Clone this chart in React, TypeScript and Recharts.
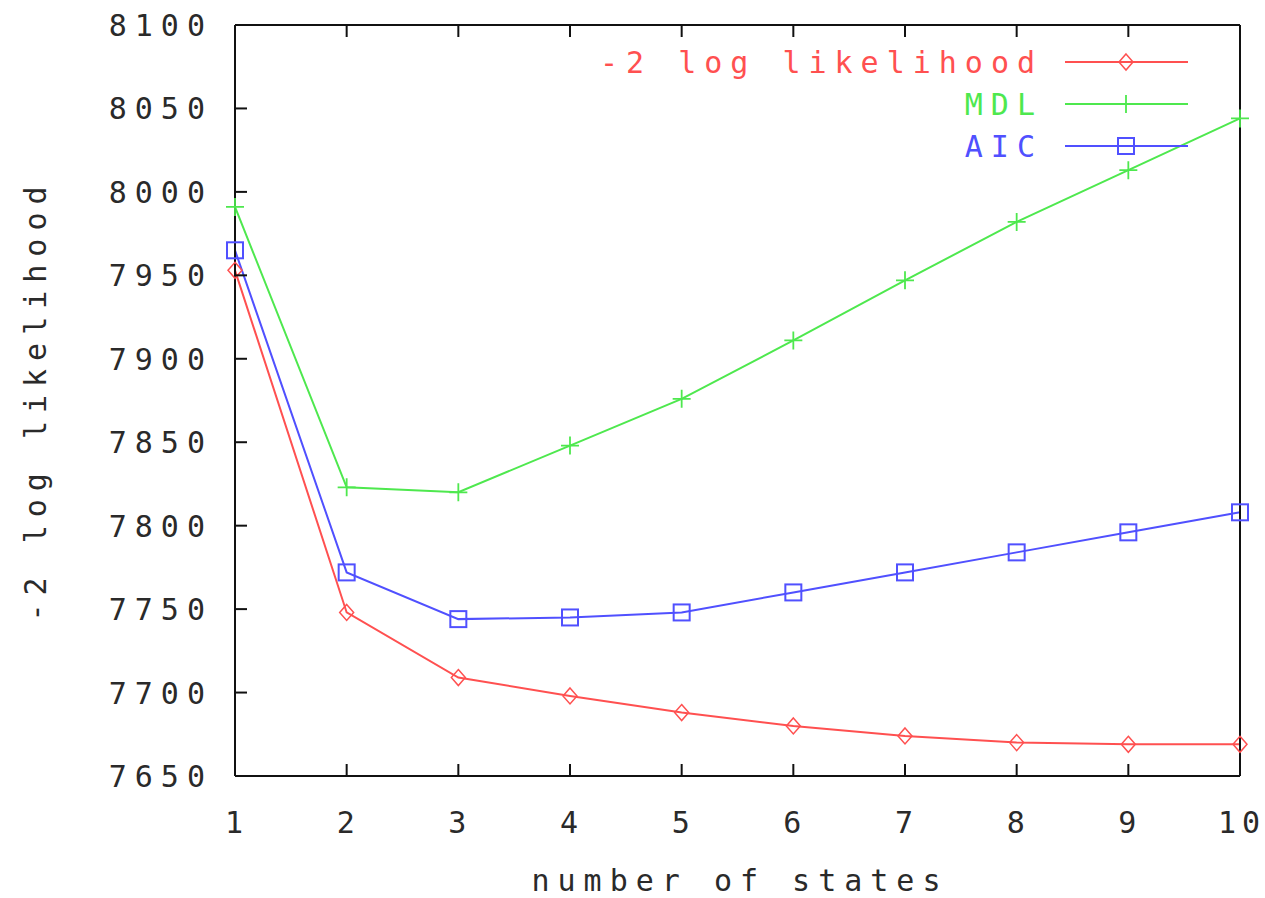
import { Legend, Label, Line, LineChart, XAxis, YAxis } from 'recharts';

const states = [1, 2, 3, 4, 5, 6, 7, 8, 9, 10];
const logLikelihood = [7953, 7748, 7709, 7698, 7688, 7680, 7674, 7670, 7669, 7669];
const mdlValues = [7991, 7823, 7820, 7848, 7876, 7911, 7947, 7982, 8013, 8044];
const aicValues = [7965, 7772, 7744, 7745, 7748, 7760, 7772, 7784, 7796, 7808];
const yTicks = [7650, 7700, 7750, 7800, 7850, 7900, 7950, 8000, 8050, 8100];

const RED = '#ff5050';
const GREEN = '#4ee84e';
const BLUE = '#5050ff';
const FONT = '"DejaVu Sans Mono", monospace';
const TEXT_STYLE = { fontFamily: FONT, fontSize: 30, letterSpacing: 8 } as const;
const XTICK_STYLE = { fontFamily: FONT, fontSize: 30, letterSpacing: 6 } as const;

const data = states.map((n, i) => ({ n, ll: logLikelihood[i], mdl: mdlValues[i], aic: aicValues[i] }));

const LeftTick = ({ x, y, payload }: any) => (
  <g>
    <line x1={x} x2={x + 12} y1={y} y2={y} stroke="#111" strokeWidth={2} />
    <text x={x - 22} y={y + 11} textAnchor="end" fill="#2a2a2a" style={TEXT_STYLE}>
      {payload.value}
    </text>
  </g>
);

const RightTick = ({ x, y }: any) => <line x1={x} x2={x - 12} y1={y} y2={y} stroke="#111" strokeWidth={2} />;

const BottomTick = ({ x, y, payload }: any) => (
  <g>
    <line x1={x} x2={x} y1={y} y2={y - 12} stroke="#111" strokeWidth={2} />
    <text x={x + 2} y={y + 57} textAnchor="middle" fill="#2a2a2a" style={XTICK_STYLE}>
      {payload.value}
    </text>
  </g>
);

const TopTick = ({ x, y }: any) => <line x1={x} x2={x} y1={y} y2={y + 12} stroke="#111" strokeWidth={2} />;

const diamond = (cx: number, cy: number) => `M${cx},${cy - 8} L${cx + 7},${cy} L${cx},${cy + 8} L${cx - 7},${cy} Z`;

const DiamondDot = (props: any) => (
  <path key={`ll-${props.index}`} d={diamond(props.cx, props.cy)} fill="none" stroke={RED} strokeWidth={1.5} />
);

const PlusDot = (props: any) => (
  <path
    key={`mdl-${props.index}`}
    d={`M${props.cx - 9},${props.cy} H${props.cx + 9} M${props.cx},${props.cy - 9} V${props.cy + 9}`}
    stroke={GREEN}
    strokeWidth={1.8}
  />
);

const SquareDot = (props: any) => (
  <rect
    key={`aic-${props.index}`}
    x={props.cx - 8}
    y={props.cy - 8}
    width={16}
    height={16}
    fill="none"
    stroke={BLUE}
    strokeWidth={2}
  />
);

const legendRows = [
  { label: '-2 log likelihood', color: RED, marker: 'diamond' },
  { label: 'MDL', color: GREEN, marker: 'plus' },
  { label: 'AIC', color: BLUE, marker: 'square' },
];

const renderLegend = () => (
  <svg width={640} height={130}>
    {legendRows.map((row, i) => {
      const cy = 22 + i * 42;
      return (
        <g key={row.label}>
          <text x={483} y={cy + 11} textAnchor="end" fill={row.color} style={TEXT_STYLE}>
            {row.label}
          </text>
          <line x1={505} x2={628} y1={cy} y2={cy} stroke={row.color} strokeWidth={2} />
          {row.marker === 'diamond' && <path d={diamond(566, cy)} fill="none" stroke={row.color} strokeWidth={1.5} />}
          {row.marker === 'plus' && (
            <path d={`M557,${cy} H575 M566,${cy - 9} V${cy + 9}`} stroke={row.color} strokeWidth={1.8} />
          )}
          {row.marker === 'square' && (
            <rect x={558} y={cy - 8} width={16} height={16} fill="none" stroke={row.color} strokeWidth={2} />
          )}
        </g>
      );
    })}
  </svg>
);

export default function App() {
  return (
    <div style={{ position: 'absolute', left: 0, top: 0, width: 1265, height: 898, background: '#fff' }}>
      <LineChart width={1265} height={898} data={data} margin={{ top: 0, right: 0, bottom: 0, left: 0 }}>
        <XAxis
          xAxisId="bottom"
          dataKey="n"
          type="number"
          domain={[1, 10]}
          ticks={states}
          interval={0}
          height={122}
          tickSize={0}
          tickMargin={0}
          tick={<BottomTick />}
          axisLine={{ stroke: '#111', strokeWidth: 2 }}
        >
          <Label
            content={() => (
              <text x={740} y={891} textAnchor="middle" fill="#2a2a2a" style={TEXT_STYLE}>
                number of states
              </text>
            )}
          />
        </XAxis>
        <XAxis
          xAxisId="top"
          orientation="top"
          dataKey="n"
          type="number"
          domain={[1, 10]}
          ticks={states}
          interval={0}
          height={25}
          tickSize={0}
          tickMargin={0}
          tick={<TopTick />}
          axisLine={{ stroke: '#111', strokeWidth: 2 }}
        />
        <YAxis
          yAxisId="left"
          type="number"
          domain={[7650, 8100]}
          ticks={yTicks}
          interval={0}
          width={235}
          tickSize={0}
          tickMargin={0}
          tick={<LeftTick />}
          axisLine={{ stroke: '#111', strokeWidth: 2 }}
        >
          <Label
            content={() => (
              <text
                x={46}
                y={400}
                transform="rotate(-90 46 400)"
                textAnchor="middle"
                fill="#2a2a2a"
                style={TEXT_STYLE}
              >
                -2 log likelihood
              </text>
            )}
          />
        </YAxis>
        <YAxis
          yAxisId="right"
          orientation="right"
          type="number"
          domain={[7650, 8100]}
          ticks={yTicks}
          interval={0}
          width={25}
          tickSize={0}
          tickMargin={0}
          tick={<RightTick />}
          axisLine={{ stroke: '#111', strokeWidth: 2 }}
        />
        <Legend
          layout="vertical"
          align="center"
          verticalAlign="middle"
          content={renderLegend}
          wrapperStyle={{ position: 'absolute', left: 560, top: 40, width: 640, height: 130 }}
        />
        <Line
          xAxisId="bottom"
          yAxisId="left"
          dataKey="ll"
          name="-2 log likelihood"
          stroke={RED}
          strokeWidth={2}
          dot={DiamondDot}
          activeDot={false}
          isAnimationActive={false}
        />
        <Line
          xAxisId="bottom"
          yAxisId="left"
          dataKey="mdl"
          name="MDL"
          stroke={GREEN}
          strokeWidth={2}
          dot={PlusDot}
          activeDot={false}
          isAnimationActive={false}
        />
        <Line
          xAxisId="bottom"
          yAxisId="left"
          dataKey="aic"
          name="AIC"
          stroke={BLUE}
          strokeWidth={2}
          dot={SquareDot}
          activeDot={false}
          isAnimationActive={false}
        />
      </LineChart>
    </div>
  );
}
